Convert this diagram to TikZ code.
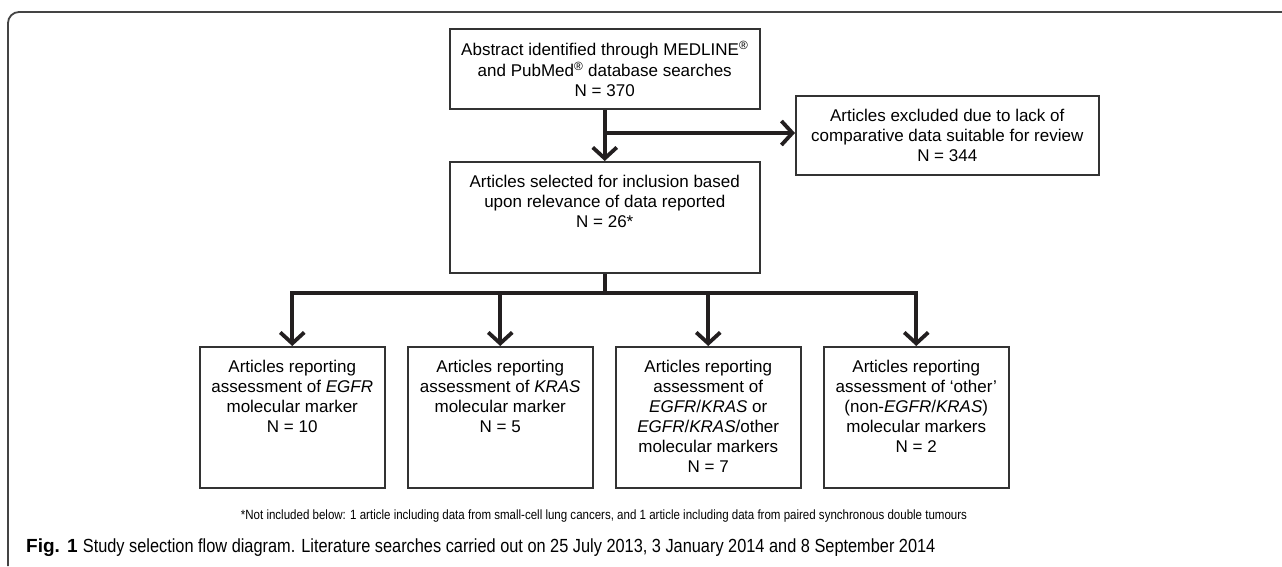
\documentclass[tikz,border=0pt]{standalone}
\usepackage{fontspec}
\setmainfont{Liberation Sans}
\newfontfamily\condfont[FakeStretch=0.86]{Liberation Sans}
\usetikzlibrary{arrows.meta}
\definecolor{ink}{HTML}{231F20}
\definecolor{edgec}{HTML}{333333}
\definecolor{framec}{HTML}{444444}
\newcommand{\bxt}[3]{\parbox[c][#2][t]{#1}{\fontsize{17}{20}\selectfont\centering\vspace*{12pt}\strut #3}}
\tikzset{
  boxs/.style={draw=edgec, line width=1.5pt, inner sep=0pt, anchor=north west},
  conn/.style={draw=ink, line width=3.8pt},
  arr/.style={draw=ink, line width=3.8pt, -{Straight Barb[length=11pt,width=24pt]}},
  framel/.style={draw=framec, line width=1.8pt, rounded corners=11pt}
}
\begin{document}
\begin{tikzpicture}[x=1pt,y=-1pt]
\useasboundingbox (0,0) rectangle (1282,566);
\draw[framel] (1282,12) -- (8,12) -- (8,566);
\node[boxs] (top) at (449,28) {\bxt{310pt}{80pt}{Abstract identified through MEDLINE\textsuperscript{®}\\and PubMed\textsuperscript{®} database searches\\N = 370}};
\node[boxs] (excl) at (795,95) {\bxt{303pt}{79pt}{Articles excluded due to lack of\\comparative data suitable for review\\N = 344}};
\node[boxs] (mid) at (449,161) {\bxt{310pt}{111pt}{Articles selected for inclusion based\\upon relevance of data reported\\N = 26*}};
\node[boxs] (b1) at (199,346) {\bxt{185pt}{141pt}{Articles reporting\\assessment of \textit{EGFR}\\molecular marker\\N = 10}};
\node[boxs] (b2) at (407,346) {\bxt{185pt}{141pt}{Articles reporting\\assessment of \textit{KRAS}\\molecular marker\\N = 5}};
\node[boxs] (b3) at (615,346) {\bxt{185pt}{141pt}{Articles reporting\\assessment of\\\textit{EGFR}/\textit{KRAS} or\\\textit{EGFR}/\textit{KRAS}/other\\molecular markers\\N = 7}};
\node[boxs] (b4) at (823,346) {\bxt{185pt}{141pt}{Articles reporting\\assessment of ‘other’\\(non-\textit{EGFR}/\textit{KRAS})\\molecular markers\\N = 2}};
\coordinate (j) at (top.south |- 0,133);
\coordinate (bj) at (mid.south |- 0,293);
\draw[arr] (top.south) -- (mid.north);
\draw[arr] (j) -- (j -| excl.west);
\draw[conn] (mid.south) -- (bj);
\draw[arr] (bj) -| (b1.north);
\draw[arr] (bj) -| (b2.north);
\draw[arr] (bj) -| (b3.north);
\draw[arr] (bj) -| (b4.north);
\node[inner sep=0pt] (fn) at (604,516) {\condfont\fontsize{13.4}{15}\selectfont *Not included below: 1 article including data from small-cell lung cancers, and 1 article including data from paired synchronous double tumours};
\node[inner sep=0pt, anchor=west] (cap) at (26,548) {\fontsize{19}{22}\selectfont\textbf{Fig. 1} {\condfont Study selection flow diagram. Literature searches carried out on 25 July 2013, 3 January 2014 and 8 September 2014}};
\end{tikzpicture}
\end{document}
